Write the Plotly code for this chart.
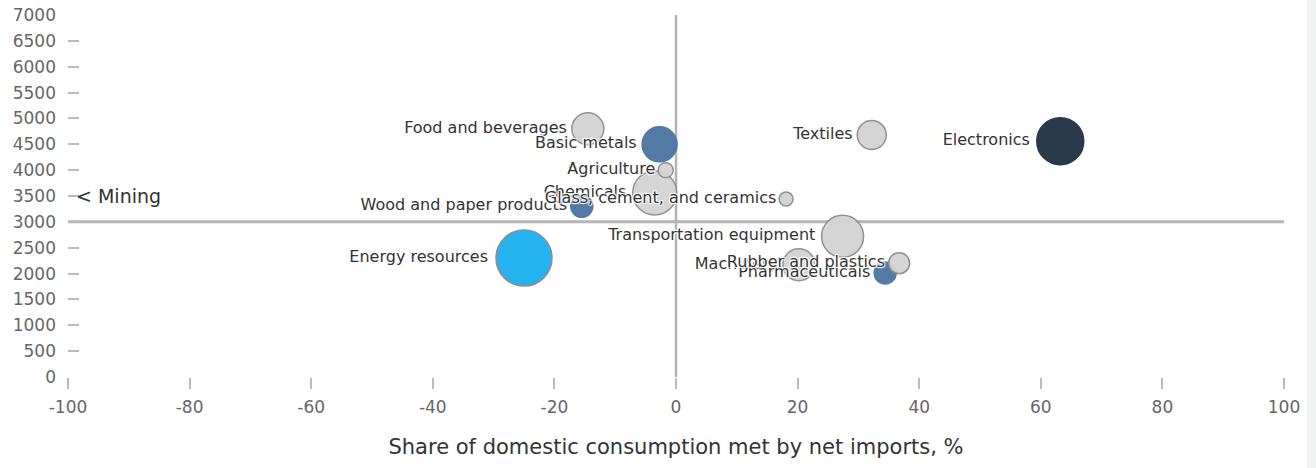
import plotly.graph_objects as go

# ---- data ----
sectors = ["Energy resources", "Wood and paper products", "Food and beverages", "Chemicals",
           "Basic metals", "Agriculture", "Glass, cement, and ceramics", "Machinery",
           "Transportation equipment", "Textiles", "Pharmaceuticals", "Rubber and plastics",
           "Electronics"]
net_import_share = [-25, -15.5, -14.5, -3.5, -2.7, -1.7, 18.1, 20.2, 27.4, 32.2, 34.4, 36.7, 63.2]
value = [2300, 3300, 4800, 3560, 4500, 4000, 3440, 2170, 2720, 4680, 2010, 2200, 4560]
bubble = [56, 22, 32, 44, 35, 15, 14, 32, 42, 29, 22, 21, 47]
colors = ["#1aaff0", "#4a72a0", "#d3d3d3", "#d3d3d3", "#4a72a0", "#d3d3d3", "#d3d3d3",
          "#d3d3d3", "#d3d3d3", "#d3d3d3", "#4a72a0", "#d3d3d3", "#1f3042"]
outline = ["#888888", "#4a72a0", "#8c8c8c", "#8c8c8c", "#4a72a0", "#8c8c8c", "#8c8c8c",
           "#8c8c8c", "#8c8c8c", "#8c8c8c", "#4a72a0", "#8c8c8c", "#1f3042"]
x_ticks = [-100, -80, -60, -40, -20, 0, 20, 40, 60, 80, 100]
x_tick_labels = ["-100", "-80", "-60", "-40", "-20", "0", "20", "40", "60", "80", "100"]
y_ticks = list(range(0, 7001, 500))
x_split = 0
y_split = 3000
offchart_label = "< Mining"
offchart_y = 3500
x_title = "Share of domestic consumption met by net imports, %"

FONT = "DejaVu Sans, Verdana, sans-serif"

fig = go.Figure()
fig.add_trace(go.Scatter(
    x=net_import_share, y=value, mode="markers+text", text=sectors,
    textposition="middle left",
    textfont=dict(family=FONT, size=16, color="#333333",
                  shadow="1px 1px 1px white, -1px -1px 1px white, 1px -1px 1px white, -1px 1px 1px white"),
    marker=dict(size=bubble, color=colors, opacity=0.95,
                line=dict(color=outline, width=1.5)),
    cliponaxis=False, hoverinfo="text",
))

fig.add_shape(type="line", xref="x", yref="y", x0=x_split, x1=x_split,
              y0=min(y_ticks), y1=max(y_ticks), line=dict(color="#b5b5b5", width=2.5), layer="below")
fig.add_shape(type="line", xref="x", yref="y", x0=min(x_ticks), x1=max(x_ticks),
              y0=y_split, y1=y_split, line=dict(color="#b5b5b5", width=3), layer="below")
# scrollbar-like strip on the right edge
fig.add_shape(type="rect", xref="paper", yref="paper", x0=(1307 - 68) / 1216, x1=1.03,
              y0=-0.3, y1=1.1, fillcolor="#f1f2f2", line=dict(width=0), layer="below")

fig.add_annotation(x=min(x_ticks), y=offchart_y, xref="x", yref="y", text=offchart_label,
                   showarrow=False, xanchor="left", xshift=6,
                   font=dict(family=FONT, size=19, color="#333333"))

fig.update_layout(
    width=1316, height=468,
    margin=dict(l=68, r=32, t=15, b=91),
    paper_bgcolor="white", plot_bgcolor="white",
    showlegend=False,
    xaxis=dict(range=[-100, 100], tickvals=x_ticks, ticktext=x_tick_labels,
               ticks="outside", ticklen=11, tickwidth=2,
               tickcolor="#bbbbbb", showgrid=False, zeroline=False, showline=False,
               automargin=False, ticklabelstandoff=4,
               tickfont=dict(family=FONT, size=17, color="#666666"),
               title=dict(text=x_title, font=dict(family=FONT, size=21, color="#333333"), standoff=22)),
    yaxis=dict(range=[0, 7000], tickvals=y_ticks, ticks="inside", ticklen=11, tickwidth=2,
               tickcolor="#bbbbbb", showgrid=False, zeroline=False, showline=False,
               automargin=False, ticklabelstandoff=11,
               tickfont=dict(family=FONT, size=17, color="#666666")),
)

fig.write_html("out.html")
